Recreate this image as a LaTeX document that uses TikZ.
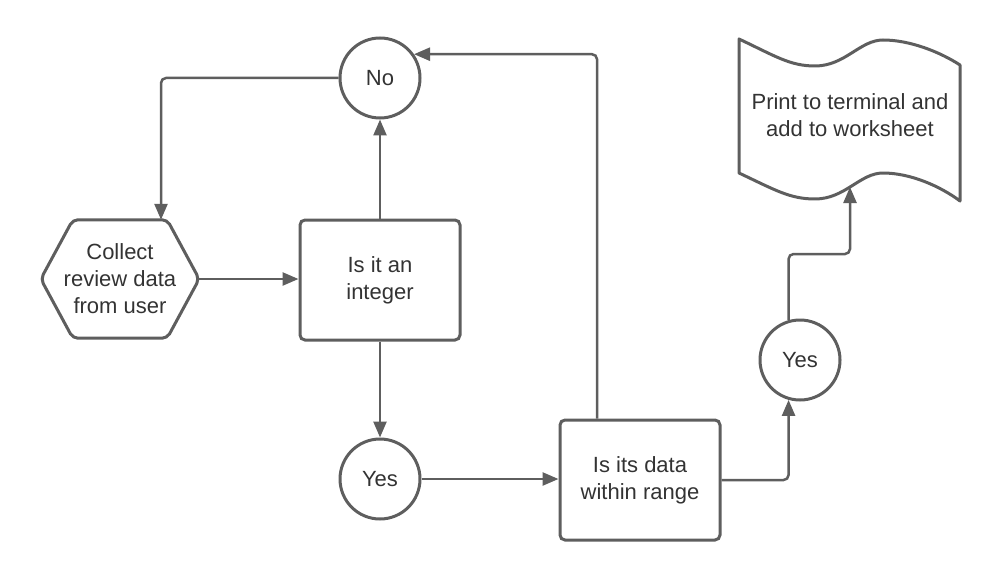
\documentclass[tikz,border=0pt]{standalone}
\usepackage{fontspec}
\setmainfont{Liberation Sans}
\usetikzlibrary{
    arrows.meta,
    calc,
    positioning
}
\definecolor{linegray}{HTML}{5E5E5E}
\definecolor{textgray}{HTML}{333333}
\tikzset{
    label text/.style={text=textgray, align=center, font=\fontsize{22}{27}\selectfont},
    shapeline/.style={draw=linegray, line width=3pt},
    decision/.style={shapeline, label text, rectangle, rounded corners=5pt, minimum width=160pt, minimum height=120pt, inner sep=0pt},
    answer/.style={shapeline, label text, circle, minimum size=80pt, inner sep=0pt},
    flow/.style={draw=linegray, line width=2.5pt, rounded corners=5pt, -{Triangle[length=16pt,width=13pt]}}
}

\begin{document}
\begin{tikzpicture}[x=1pt, y=-1pt]
    \useasboundingbox (0, 0) rectangle (1000, 580);
    % shapes
    \node[answer] (no) at (380, 78) {No};
    \node[label text, minimum width=158pt, minimum height=118pt, inner sep=0pt] (collect) at (120, 279) {Collect\\review data\\from user};
    \draw[shapeline, rounded corners=5pt]
        (collect.north) -- ([xshift=-32pt]collect.north east) -- (collect.east)
        -- ([xshift=-32pt]collect.south east) -- ([xshift=32pt]collect.south west)
        -- (collect.west) -- ([xshift=32pt]collect.north west) -- cycle;
    \node[decision] (integer) at (380, 280) {Is it an\\integer};
    \node[answer] (yes1) at (380, 479) {Yes};
    \node[decision] (range) at (640, 480) {Is its data\\within range};
    \node[answer] (yes2) at (800, 360) {Yes};
    \draw[shapeline, line join=round]
        (739, 39) .. controls (775, 56) and (790, 66) .. (815, 66)
        .. controls (845, 66) and (860, 40) .. (883, 40)
        .. controls (910, 40) and (940, 52) .. (960, 65)
        -- (960, 201)
        .. controls (940, 186) and (910, 173) .. (883, 173)
        .. controls (860, 173) and (845, 199) .. (815, 199)
        .. controls (790, 199) and (775, 190) .. (739, 173) -- cycle;
    \node[label text] (print) at (850, 115) {Print to terminal and\\add to worksheet};
    \coordinate (printin) at (850, 187);
    \coordinate (bend) at (850, 254);
    % connectors
    \draw[flow] (no.west) -| ([xshift=41pt]collect.north);
    \draw
        (collect.east) edge[flow] (collect.east -| integer.west)
        (integer.north) edge[flow] (no.south)
        (integer.south) edge[flow] (yes1.north)
        (yes1.east) edge[flow] (yes1.east -| range.west);
    \draw[flow] ([xshift=-43pt]range.north) |- (no.35);
    \draw[flow] (range.east) -| (yes2.254);
    \draw[flow] (yes2.106) |- (bend) -- (printin);
\end{tikzpicture}
\end{document}
